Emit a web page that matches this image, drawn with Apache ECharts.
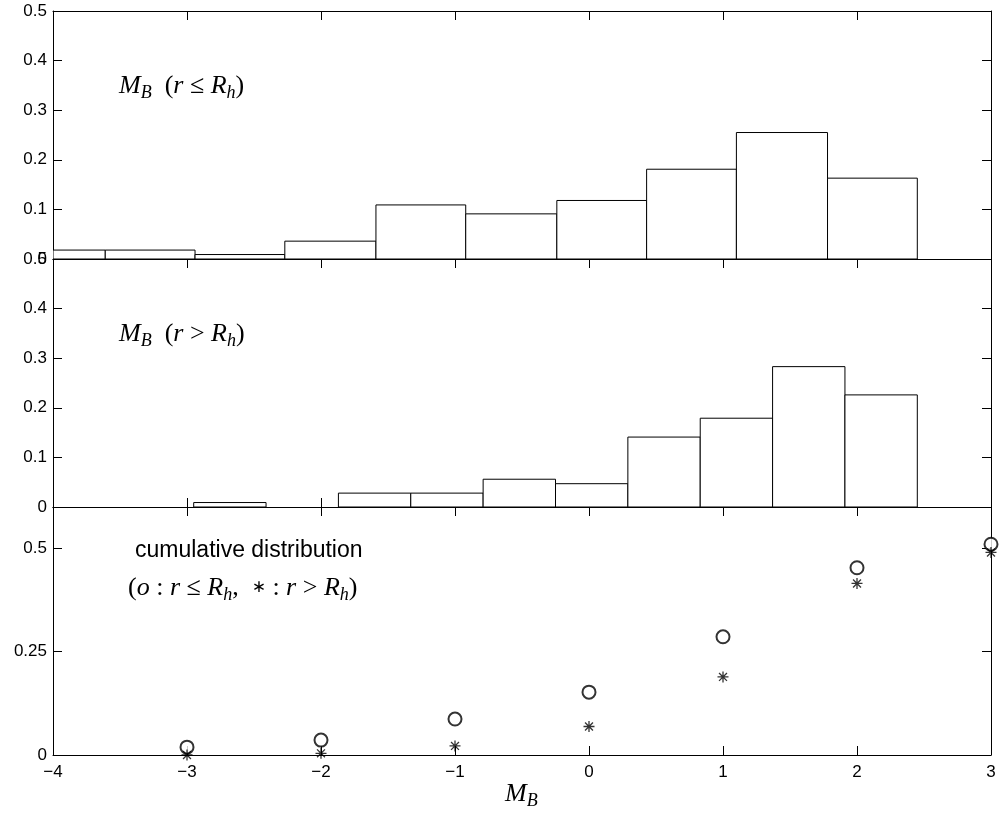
<!DOCTYPE html>
<html>
<head>
<meta charset="utf-8">
<script src="https://cdn.jsdelivr.net/npm/echarts@6/dist/echarts.min.js"></script>
<style>
  html, body { margin: 0; padding: 0; background: #fff; }
  #main { width: 1000px; height: 817px; }
</style>
</head>
<body>
<div id="main"></div>
<script>
// histogram bin edges and heights
var innerEdges = [-4.29, -3.61, -2.94, -2.27, -1.59, -0.92, -0.24, 0.43, 1.10, 1.78, 2.45];
var innerHeights = [0.018, 0.018, 0.009, 0.036, 0.109, 0.091, 0.118, 0.181, 0.255, 0.163];
var outerEdges = [-2.95, -2.41, -1.87, -1.33, -0.79, -0.25, 0.29, 0.83, 1.37, 1.91, 2.45];
var outerHeights = [0.009, 0, 0.028, 0.028, 0.056, 0.047, 0.141, 0.179, 0.283, 0.226];
// cumulative distribution
var cumX = [-3, -2, -1, 0, 1, 2, 3];
var cumInner = [0.019, 0.036, 0.087, 0.152, 0.286, 0.453, 0.51];
var cumOuter = [0, 0.004, 0.022, 0.069, 0.189, 0.415, 0.49];

var chart = echarts.init(document.getElementById('main'));

var labelFont = { color: '#000', fontFamily: 'Liberation Sans', fontSize: 17 };
var grids = [
    { left: 53, right: 9, top: 11, height: 248 },
    { left: 53, right: 9, top: 259, height: 248 },
    { left: 53, right: 9, top: 507, height: 248 }
];

function minusFmt(v) {
    return String(v).replace('-', '\u2212');
}

var xAxes = [], yAxes = [];
for (var g = 0; g < 3; g++) {
    xAxes.push({
        type: 'value', gridIndex: g, min: -4, max: 3, interval: 1, position: 'bottom',
        axisLine: { show: true, onZero: false, lineStyle: { color: '#000', width: 1 } },
        axisTick: { show: true, inside: true, length: 9, lineStyle: { color: '#000' } },
        axisLabel: g === 2 ? Object.assign({ show: true, margin: 9, formatter: minusFmt }, labelFont) : { show: false },
        splitLine: { show: false }
    });
    xAxes.push({
        type: 'value', gridIndex: g, min: -4, max: 3, interval: 1, position: 'top',
        axisLine: { show: true, onZero: false, lineStyle: { color: '#000', width: 1 } },
        axisTick: { show: true, inside: true, length: 9, lineStyle: { color: '#000' } },
        axisLabel: { show: false },
        splitLine: { show: false }
    });
    var ymax = g === 2 ? 0.6 : 0.5;
    var yint = g === 2 ? 0.25 : 0.1;
    yAxes.push({
        type: 'value', gridIndex: g, min: 0, max: ymax, interval: yint, position: 'left',
        axisLine: { show: true, onZero: false, lineStyle: { color: '#000', width: 1 } },
        axisTick: { show: true, inside: true, length: 9, lineStyle: { color: '#000' } },
        axisLabel: Object.assign({ show: true, margin: 6, showMaxLabel: g !== 2 }, labelFont),
        splitLine: { show: false }
    });
    yAxes.push({
        type: 'value', gridIndex: g, min: 0, max: ymax, interval: yint, position: 'right',
        axisLine: { show: true, onZero: false, lineStyle: { color: '#000', width: 1 } },
        axisTick: { show: true, inside: true, length: 9, lineStyle: { color: '#000' } },
        axisLabel: { show: false },
        splitLine: { show: false }
    });
}

function histData(edges, heights) {
    var out = [];
    for (var i = 0; i < heights.length; i++) {
        out.push([edges[i], edges[i + 1], heights[i]]);
    }
    return out;
}

function renderBin(params, api) {
    var p0 = api.coord([api.value(0), 0]);
    var p1 = api.coord([api.value(1), api.value(2)]);
    var shape = echarts.graphic.clipRectByRect({
        x: p0[0], y: p1[1], width: p1[0] - p0[0], height: p0[1] - p1[1]
    }, {
        x: params.coordSys.x, y: params.coordSys.y,
        width: params.coordSys.width, height: params.coordSys.height
    });
    if (!shape || api.value(2) <= 0) return;
    return {
        type: 'rect', shape: shape,
        style: { fill: '#fff', stroke: '#000', lineWidth: 1 }
    };
}

var asterisk = 'path://M0,-5L0,5M-5,0L5,0M-3.6,-3.6L3.6,3.6M-3.6,3.6L3.6,-3.6';

var mathRich = {
    i: { fontFamily: 'Liberation Serif', fontStyle: 'italic', fontSize: 26, lineHeight: 32, color: '#000' },
    n: { fontFamily: 'Liberation Serif', fontSize: 26, lineHeight: 32, color: '#000' },
    a: { fontFamily: 'DejaVu Sans', fontSize: 17, lineHeight: 32, color: '#000' },
    s: { fontFamily: 'Liberation Serif', fontStyle: 'italic', fontSize: 18, lineHeight: 16, verticalAlign: 'bottom', color: '#000' }
};

var option = {
    animation: false,
    backgroundColor: '#fff',
    grid: grids,
    xAxis: xAxes,
    yAxis: yAxes,
    series: [
        {
            type: 'custom', name: 'inner', xAxisIndex: 0, yAxisIndex: 0,
            renderItem: renderBin, data: histData(innerEdges, innerHeights), clip: true
        },
        {
            type: 'custom', name: 'outer', xAxisIndex: 2, yAxisIndex: 2,
            renderItem: renderBin, data: histData(outerEdges, outerHeights), clip: true
        },
        {
            type: 'scatter', name: 'o', xAxisIndex: 4, yAxisIndex: 4, clip: false,
            symbol: 'emptyCircle', symbolSize: 13,
            itemStyle: { color: '#000', borderColor: '#000', borderWidth: 1 },
            data: cumX.map(function (x, i) { return [x, cumInner[i]]; })
        },
        {
            type: 'scatter', name: '*', xAxisIndex: 4, yAxisIndex: 4, clip: false,
            symbol: asterisk, symbolSize: 11,
            itemStyle: { color: 'none', borderColor: '#000', borderWidth: 1.3 },
            data: cumX.map(function (x, i) { return [x, cumOuter[i]]; })
        }
    ],
    graphic: [
        {
            type: 'text', left: 119, top: 73,
            style: { text: '{i|M}{s|B}{n|  (}{i|r}{n| \u2264 }{i|R}{s|h}{n|)}', rich: mathRich }
        },
        {
            type: 'text', left: 119, top: 321,
            style: { text: '{i|M}{s|B}{n|  (}{i|r}{n| > }{i|R}{s|h}{n|)}', rich: mathRich }
        },
        {
            type: 'text', left: 135, top: 539,
            style: { text: 'cumulative distribution', fontFamily: 'Liberation Sans', fontSize: 23, fill: '#000' }
        },
        {
            type: 'text', left: 128, top: 575,
            style: { text: '{n|(}{i|o}{n| : }{i|r}{n| \u2264 }{i|R}{s|h}{n|,  }{a|\u2217}{n| : }{i|r}{n| > }{i|R}{s|h}{n|)}', rich: mathRich }
        },
        {
            type: 'text', left: 505, top: 781,
            style: { text: '{i|M}{s|B}', rich: mathRich }
        }
    ]
};

chart.setOption(option);
</script>
</body>
</html>
